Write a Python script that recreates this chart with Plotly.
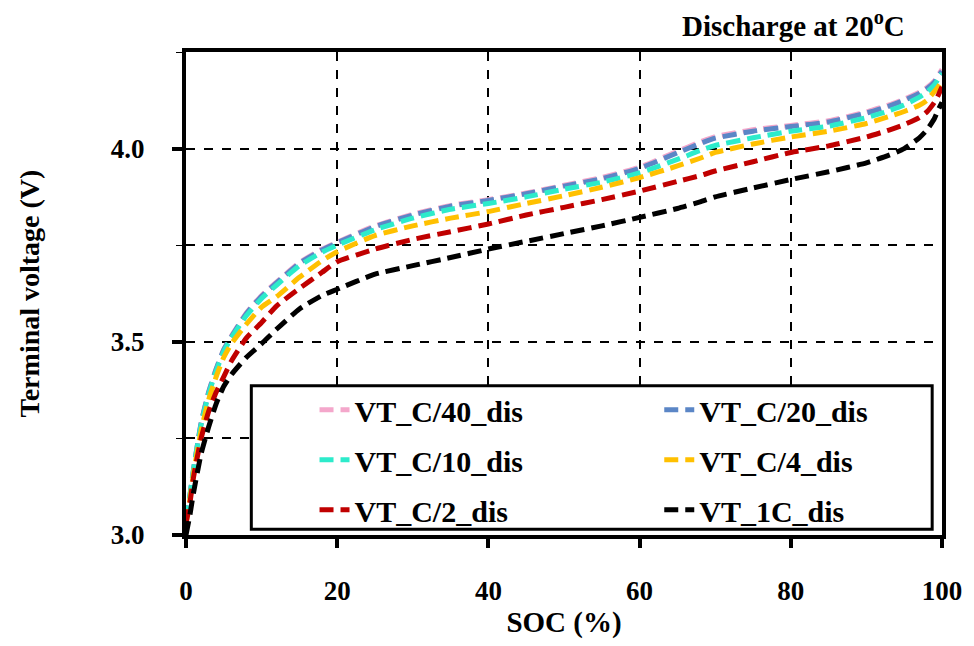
import plotly.graph_objects as go

soc = [0, 0.5, 1, 2, 3, 4, 5, 6, 8, 10, 12, 15, 18, 20, 25, 30, 35, 40, 45, 50,
       55, 60, 65, 68, 70, 75, 80, 85, 90, 93, 95, 97, 98, 99, 99.5, 100]

vt_c40 = [3.04, 3.10, 3.17, 3.29, 3.37, 3.43, 3.48, 3.515, 3.575, 3.62, 3.655, 3.705, 3.74, 3.758,
          3.80, 3.83, 3.853, 3.868, 3.885, 3.905, 3.925, 3.952, 3.993, 4.017, 4.031, 4.049, 4.06,
          4.072, 4.095, 4.113, 4.128, 4.146, 4.158, 4.175, 4.19, 4.205]
vt_c20 = [3.04, 3.10, 3.17, 3.29, 3.37, 3.43, 3.48, 3.513, 3.573, 3.618, 3.653, 3.703, 3.738, 3.756,
          3.798, 3.828, 3.851, 3.866, 3.883, 3.903, 3.922, 3.949, 3.989, 4.013, 4.027, 4.045, 4.057,
          4.069, 4.092, 4.110, 4.125, 4.143, 4.155, 4.172, 4.187, 4.20]
vt_c10 = [3.04, 3.10, 3.17, 3.285, 3.365, 3.425, 3.475, 3.51, 3.568, 3.612, 3.647, 3.697, 3.732, 3.75,
          3.79, 3.82, 3.843, 3.858, 3.875, 3.895, 3.913, 3.937, 3.972, 3.995, 4.008, 4.028, 4.045,
          4.058, 4.08, 4.098, 4.113, 4.133, 4.146, 4.165, 4.18, 4.195]
vt_c4 = [3.03, 3.09, 3.16, 3.27, 3.35, 3.41, 3.46, 3.495, 3.546, 3.59, 3.617, 3.667, 3.71, 3.733,
         3.775, 3.80, 3.82, 3.837, 3.858, 3.878, 3.90, 3.925, 3.955, 3.975, 3.99, 4.012, 4.03,
         4.045, 4.065, 4.083, 4.096, 4.112, 4.125, 4.148, 4.16, 4.175]
vt_c2 = [3.03, 3.08, 3.15, 3.25, 3.32, 3.37, 3.41, 3.45, 3.51, 3.55, 3.593, 3.638, 3.68, 3.707,
         3.74, 3.765, 3.785, 3.805, 3.828, 3.848, 3.868, 3.89, 3.915, 3.93, 3.942, 3.966, 3.99,
         4.007, 4.03, 4.048, 4.062, 4.08, 4.095, 4.12, 4.138, 4.16]
vt_1c = [3.00, 3.05, 3.11, 3.21, 3.28, 3.34, 3.385, 3.415, 3.46, 3.495, 3.533, 3.585, 3.62, 3.636,
         3.675, 3.697, 3.718, 3.74, 3.76, 3.78, 3.80, 3.822, 3.845, 3.862, 3.875, 3.898, 3.92,
         3.94, 3.963, 3.983, 4.0, 4.028, 4.048, 4.078, 4.10, 4.12]

names = ["VT_C/40_dis", "VT_C/20_dis", "VT_C/10_dis", "VT_C/4_dis", "VT_C/2_dis", "VT_1C_dis"]
series = [vt_c40, vt_c20, vt_c10, vt_c4, vt_c2, vt_1c]
colors = ["#F4A7CB", "#5B86C6", "#2DEBCB", "#FFC000", "#C00000", "#000000"]
legend_ids = ["legend", "legend2", "legend", "legend2", "legend", "legend2"]

FONT = "Liberation Serif"

fig = go.Figure()
for i, (n, y, c, lg) in enumerate(zip(names, series, colors, legend_ids)):
    fig.add_trace(go.Scatter(
        x=soc, y=y, mode="lines", name=n, legend=lg, legendgroup=n,
        line=dict(color=c, width=5, dash="14px,7px", shape="spline", smoothing=0.5),
    ))

fig.update_layout(
    width=974, height=646,
    margin=dict(l=186, r=24, t=52, b=105),
    plot_bgcolor="white", paper_bgcolor="white",
    font=dict(family=FONT, color="black", size=27, weight="bold"),
    xaxis=dict(
        range=[0, 100], dtick=20, tick0=0,
        showline=True, linecolor="black", linewidth=4, mirror=True,
        ticks="outside", ticklen=9, tickwidth=4, tickcolor="black",
        showgrid=True, gridcolor="black", gridwidth=2, griddash="dash",
        zeroline=False,
        tickfont=dict(family=FONT, size=27, weight="bold"),
        ticklabelstandoff=20,
        title=dict(text="SOC (%)", font=dict(family=FONT, size=29, weight="bold"), standoff=7),
    ),
    yaxis=dict(
        range=[3.0, 4.25], dtick=0.5, tick0=3.0, tickformat=".1f",
        showline=True, linecolor="black", linewidth=4, mirror=True,
        ticks="outside", ticklen=10, tickwidth=4, tickcolor="black",
        showgrid=True, gridcolor="black", gridwidth=2, griddash="dash",
        minor=dict(dtick=0.25, tick0=3.0, ticks="outside", ticklen=6, tickwidth=1,
                   tickcolor="black", showgrid=True, gridcolor="black", gridwidth=2,
                   griddash="dash"),
        zeroline=False,
        tickfont=dict(family=FONT, size=27, weight="bold"),
        ticklabelstandoff=22,
        title=dict(text="Terminal voltage (V)", font=dict(family=FONT, size=28, weight="bold"),
                   standoff=64),
    ),
    legend=dict(
        x=0.17, y=0.313, xanchor="left", yanchor="top",
        orientation="v", traceorder="grouped", tracegroupgap=8,
        bgcolor="rgba(0,0,0,0)", borderwidth=0,
        font=dict(family=FONT, size=30, weight="bold"),
    ),
    legend2=dict(
        x=0.626, y=0.313, xanchor="left", yanchor="top",
        orientation="v", traceorder="grouped", tracegroupgap=8,
        bgcolor="rgba(0,0,0,0)", borderwidth=0,
        font=dict(family=FONT, size=30, weight="bold"),
    ),
    shapes=[dict(
        type="rect", xref="paper", yref="paper",
        x0=0.0864, x1=0.987, y0=0.012, y1=0.309,
        line=dict(color="black", width=3), fillcolor="white", layer="above",
    )],
    annotations=[dict(
        text="Discharge at 20<sup>o</sup>C", xref="paper", yref="paper",
        x=0.803, y=1.058, xanchor="center", yanchor="middle", showarrow=False,
        font=dict(family=FONT, size=29, weight="bold", color="black"),
    )],
)

fig.write_html("out.html")
